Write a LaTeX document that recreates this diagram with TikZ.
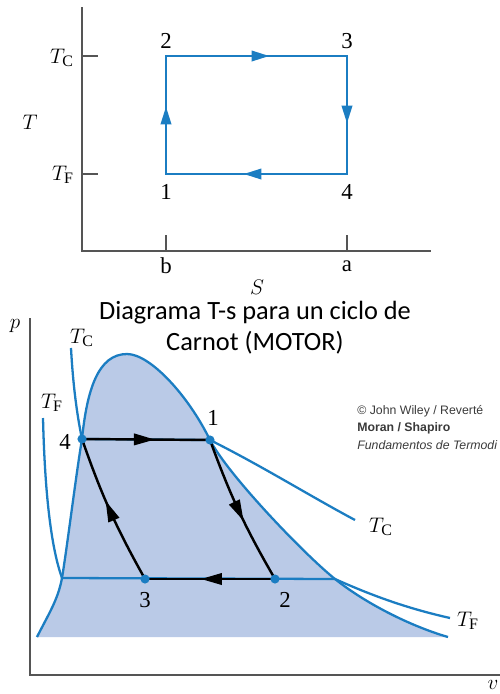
\documentclass[tikz,border=0pt]{standalone}
\usepackage{fontspec}
\setmainfont{Liberation Serif}
\newfontfamily\titlefont{Carlito}
\newfontfamily\wileyfont{Liberation Sans}
\usepackage{xcolor}
\usetikzlibrary{arrows.meta, positioning, decorations.markings}
\definecolor{cycblue}{HTML}{1B7DC2}
\definecolor{domefill}{HTML}{BACAE7}
\definecolor{axgray}{HTML}{555555}
\definecolor{wileygray}{HTML}{3A3A3A}
% saturation dome of the p-v diagram
\newcommand{\domepath}{(37,637) .. controls (48,615) and (58,600) .. (tp)
  .. controls (67,548) and (76,475) .. (p4)
  .. controls (87,390) and (98,354) .. (127,354)
  .. controls (150,354) and (188,395) .. (p1)
  .. controls (228,475) and (305,555) .. (tx)
  .. controls (365,603) and (410,626) .. (448,637)}

\begin{document}
\begin{tikzpicture}[x=0.02cm, y=-0.02cm, font=\fontsize{13}{15}\selectfont,
  axis/.style={draw=axgray, line width=0.9pt},
  isoline/.style={color=cycblue, line width=1.3pt},
  rectline/.style={color=cycblue, line width=1.1pt, line cap=rect},
  procline/.style={color=black, line width=1.4pt},
  midarr/.style={postaction={decorate, decoration={markings,
      mark=at position #1 with {\arrow{Triangle[length=10pt, width=6pt]}}}}},
  bigarr/.style={postaction={decorate, decoration={markings,
      mark=at position #1 with {\arrow{Triangle[length=12pt, width=6.5pt]}}}}},
  statept/.style={circle, fill=cycblue, inner sep=0pt, minimum size=5.2pt},
  lbl/.style={inner sep=1pt}]
  \useasboundingbox (0,0) rectangle (500,694);

  % T-s diagram
  \coordinate (ytop) at (82,7);
  \coordinate (o1) at (82,251);
  \coordinate (xend) at (431,251);
  \draw[axis] (ytop) -- (o1) -- (xend);
  \coordinate (tc) at (82,56);  \coordinate (tcr) at (98,56);
  \coordinate (tf) at (82,174); \coordinate (tfr) at (98,174);
  \coordinate (sb) at (166,251); \coordinate (sbt) at (166,235);
  \coordinate (sa) at (347,251); \coordinate (sat) at (347,235);
  \draw[axis] (tc) -- (tcr) (tf) -- (tfr) (sb) -- (sbt) (sa) -- (sat);

  \coordinate (s1) at (166,174);
  \coordinate (s2) at (166,56);
  \coordinate (s3) at (347,56);
  \coordinate (s4) at (347,174);
  \foreach \a/\b in {s1/s2, s2/s3, s3/s4, s4/s1}
    \draw[rectline, midarr=0.57] (\a) -- (\b);

  \node[lbl] (l2) at (166,41) {2};
  \node[lbl] (l3) at (347,41) {3};
  \node[lbl] (l1) at (166,192) {1};
  \node[lbl] (l4) at (347,192) {4};
  \node[lbl] (ltc) at (62,58) {$T_{\mathrm{C}}$};
  \node[lbl] (ltf) at (63,175) {$T_{\mathrm{F}}$};
  \node[lbl] (lt) at (30,122) {$T$};
  \node[lbl] (lb) at (166,266) {b};
  \node[lbl] (la) at (347,266) {a};
  \node[lbl] (ls) at (257,287) {$S$};

  % p-v diagram
  \coordinate (ptop) at (30,318);
  \coordinate (o2) at (30,675);
  \coordinate (vend) at (500,675);
  \draw[axis] (ptop) -- (o2) -- (vend);

  \coordinate (p1) at (210,440);
  \coordinate (p2) at (275,579);
  \coordinate (p3) at (145,579);
  \coordinate (p4) at (82,439);
  \coordinate (tp) at (62,578);
  \coordinate (tx) at (335,579);

  \fill[domefill] \domepath -- cycle;
  \draw[isoline] \domepath;
  \draw[isoline] (71,348) .. controls (73,385) and (77,415) .. (p4) -- (p1)
      .. controls (262,466) and (310,496) .. (355,520);
  \draw[isoline] (43,418) .. controls (45,500) and (52,550) .. (tp) -- (tx)
      .. controls (375,597) and (410,609) .. (450,618);

  \draw[procline, bigarr=0.57] (p4) -- (p1);
  \draw[procline, bigarr=0.57] (p1) to[bend right=5] (p2);
  \draw[procline, bigarr=0.57] (p2) -- (p3);
  \draw[procline, bigarr=0.57] (p3) to[bend left=5] (p4);
  \foreach \p in {p1, p2, p3, p4}
    \node[statept] at (\p) {};

  \node[lbl] (m4) at (65,442) {4};
  \node[lbl] (m1) at (213,418) {1};
  \node[lbl] (m3) at (145,600) {3};
  \node[lbl] (m2) at (285,600) {2};
  \node[lbl] (mtc) at (82,338) {$T_{\mathrm{C}}$};
  \node[lbl] (mtf) at (52,403) {$T_{\mathrm{F}}$};
  \node[lbl] (mtc2) at (381,527) {$T_{\mathrm{C}}$};
  \node[lbl] (mtf2) at (468,621) {$T_{\mathrm{F}}$};
  \node[lbl] (mp) at (15,326) {$p$};
  \node[lbl] (mv) at (493,685) {$v$};

  \node[align=center, font=\titlefont\fontsize{15}{17.6}\selectfont] (title)
       at (255,328) {Diagrama T-s para un ciclo de\\Carnot (MOTOR)};
  \node[anchor=west, inner sep=0pt, text=wileygray,
        font=\wileyfont\fontsize{7}{8}\selectfont] (w1) at (357,411)
       {\textcopyright{} John Wiley / Reverté};
  \node[anchor=west, inner sep=0pt, text=wileygray,
        font=\wileyfont\bfseries\fontsize{7}{8}\selectfont] (w2) at (357,428)
       {Moran / Shapiro};
  \node[anchor=west, inner sep=0pt, text=wileygray,
        font=\wileyfont\itshape\fontsize{7}{8}\selectfont] (w3) at (357,445)
       {Fundamentos de Termodi};
\end{tikzpicture}
\end{document}
